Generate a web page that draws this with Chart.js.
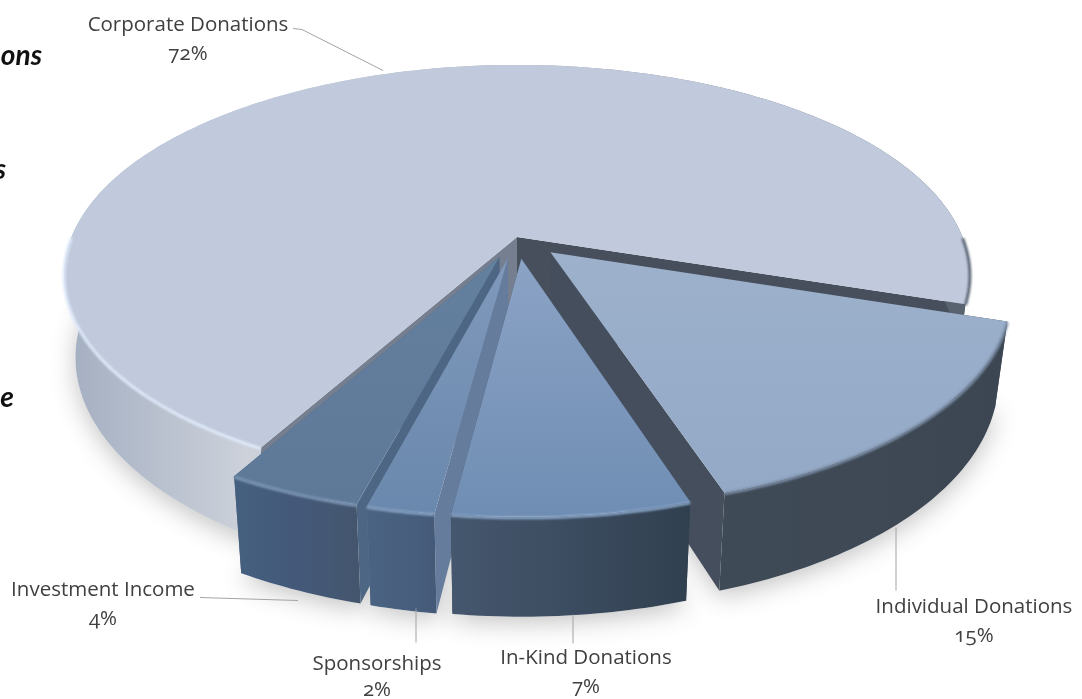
<!DOCTYPE html>
<html>
<head>
<meta charset="utf-8">
<script src="https://cdn.jsdelivr.net/npm/chart.js@4"></script>
<style>
    html, body { margin: 0; padding: 0; background: #fff; overflow: hidden; }
    #wrap { position: relative; width: 1082px; height: 699px; overflow: hidden; }
    .lbl { position: absolute; transform: translateX(-50%); white-space: nowrap; text-align: center;
           font-family: "Open Sans", sans-serif; font-size: 20.5px; line-height: 29px; color: #404040;
           font-feature-settings: "onum" 1; font-variant-numeric: oldstyle-nums; }
    .cut { position: absolute; transform: translateX(-100%); white-space: nowrap;
           font-family: Lato, sans-serif; font-weight: 700; font-style: italic; font-size: 28px; color: #111; }
</style>
</head>
<body>
<div id="wrap">
    <canvas id="chart" width="1082" height="699"></canvas>
</div>
<script>
    const categories = ['Corporate Donations', 'Individual Donations', 'In-Kind Donations', 'Sponsorships', 'Investment Income'];
    const shares = [72, 15, 7, 2, 4];
    const sideWords = ['ons', 's', 'e'];

    // slice styling, same order as categories
    const explode = [0, 21, 21, 21, 21];
    const topShades = [['#c0cadc', '#c0cadc'], ['#9db1cc', '#93a9c6'], ['#8ba3c5', '#6f8db3'], ['#7f99bb', '#6a88ad'], ['#64809f', '#5e7898']];
    const rimShades = ['#dde8f8', '#7d8fa8', '#8aa6c8', '#86a2c4', '#7e98b6'];
    const wallShades = [['#a3aec1', '#ccd1da', '#59626f'], ['#3f4a57', '#3e4955', '#3c4652'], ['#45576e', '#3c4c60', '#30404f'], ['#4b6382', '#48607e', '#445a78'], ['#45607f', '#44597a', '#44566e']];
    const cutWalls = [['#767f8f', '#474f5d'], ['#454e5c', '#454e5c'], ['#39485a', '#39485a'], ['#667c9c', '#667c9c'], ['#4c6683', '#4c6683']];

    // label placement: centre x, top y, line height, and the leader line that goes with it
    const labelSpots = [[188, 9, 29], [974, 591, 29], [586, 642, 29], [377, 649, 26], [103, 574, 29]];
    const leaders = [
        [[293, 28], [302, 29], [383, 70]],
        [[896, 527], [896, 590]],
        [[573, 614], [573, 643]],
        [[416, 608], [416, 642]],
        [[200, 597], [298, 600]]
    ];
    const sideSpots = [[42, 37], [6, 151], [14, 379]];

    // camera for the tilted disc, all relative to the outer radius
    const SPREAD_X = 2.2275;
    const SPREAD_Y = 1.015;
    const PERSPECTIVE = 0.18;
    const DEPTH = 0.4;
    const BOTTOM_SHRINK = 0.975;

    function project(el, u, v, low) {
        const w = 1 - PERSPECTIVE * v;
        const R = el.outerRadius;
        let px = SPREAD_X * R * u / w;
        let py = SPREAD_Y * R * v / w;
        if (low) {
            px *= BOTTOM_SHRINK;
            py += DEPTH * R / w;
        }
        return [el.x + px, el.y + py];
    }

    class Arc3dElement extends Chart.ArcElement {
        static id = 'arc3d';

        // apex and rim of the slice in disc units, pushed out along the bisector
        outline() {
            const mid = (this.startAngle + this.endAngle) / 2;
            const off = (this.options.offset || 0) / this.outerRadius;
            const ox = Math.cos(mid) * off;
            const oy = Math.sin(mid) * off;
            const steps = Math.max(4, Math.ceil((this.endAngle - this.startAngle) * 60));
            const rim = [];
            for (let i = 0; i <= steps; i++) {
                const a = this.startAngle + (this.endAngle - this.startAngle) * i / steps;
                rim.push({ u: ox + Math.cos(a), v: oy + Math.sin(a), front: Math.sin(a) > 0 });
            }
            return { apex: { u: ox, v: oy }, rim };
        }

        tracePoly(ctx, pts) {
            ctx.beginPath();
            pts.forEach((p, i) => i ? ctx.lineTo(p[0], p[1]) : ctx.moveTo(p[0], p[1]));
            ctx.closePath();
        }

        castShadow(ctx) {
            const { apex, rim } = this.outline();
            const pts = [apex, ...rim].map(p => project(this, p.u, p.v, true));
            ctx.save();
            ctx.shadowColor = 'rgba(60,60,60,0.3)';
            ctx.shadowBlur = 24;
            ctx.shadowOffsetY = 6;
            ctx.fillStyle = '#fff';
            this.tracePoly(ctx, pts);
            ctx.fill();
            ctx.restore();
        }

        draw(ctx) {
            const i = this.$index;
            const { apex, rim } = this.outline();
            const topRim = rim.map(p => project(this, p.u, p.v, false));
            const lowRim = rim.map(p => project(this, p.u, p.v, true));
            const topApex = project(this, apex.u, apex.v, false);
            const lowApex = project(this, apex.u, apex.v, true);

            // the two cut faces go first, the outer wall and top cover whatever is hidden
            const first = topRim[0], last = topRim[topRim.length - 1];
            ctx.fillStyle = cutWalls[i][0];
            this.tracePoly(ctx, [topApex, first, lowRim[0], lowApex]);
            ctx.fill();
            ctx.fillStyle = cutWalls[i][1];
            this.tracePoly(ctx, [topApex, last, lowRim[lowRim.length - 1], lowApex]);
            ctx.fill();

            // outer wall
            const xs = topRim.map(p => p[0]);
            const wallGrad = ctx.createLinearGradient(Math.min(...xs), 0, Math.max(...xs), 0);
            const ws = wallShades[i];
            wallGrad.addColorStop(0, ws[0]);
            wallGrad.addColorStop(i === 0 ? 0.2 : 0.5, ws[1]);
            wallGrad.addColorStop(i === 0 ? 0.95 : 1, ws[2]);
            ctx.fillStyle = wallGrad;
            this.tracePoly(ctx, [...topRim, ...lowRim.slice().reverse()]);
            ctx.fill();

            // top face
            const ys = [topApex, ...topRim].map(p => p[1]);
            const topGrad = ctx.createLinearGradient(0, Math.min(...ys), 0, Math.max(...ys));
            topGrad.addColorStop(0, topShades[i][0]);
            topGrad.addColorStop(1, topShades[i][1]);
            ctx.fillStyle = topGrad;
            this.tracePoly(ctx, [topApex, ...topRim]);
            ctx.fill();

            // soft highlight where the front of the top rounds over into the wall
            const rimGrad = ctx.createLinearGradient(Math.min(...xs), 0, Math.max(...xs), 0);
            rimGrad.addColorStop(0, rimShades[i]);
            rimGrad.addColorStop(0.6, rimShades[i]);
            rimGrad.addColorStop(0.8, i === 0 ? '#5f6878' : rimShades[i]);
            rimGrad.addColorStop(1, i === 0 ? '#5f6878' : rimShades[i]);
            ctx.save();
            ctx.filter = 'blur(1.2px)';
            ctx.strokeStyle = rimGrad;
            ctx.lineWidth = 3;
            ctx.beginPath();
            let pen = false;
            topRim.forEach((p, n) => {
                if (!rim[n].front) { pen = false; return; }
                pen ? ctx.lineTo(p[0], p[1] + 1) : ctx.moveTo(p[0], p[1] + 1);
                pen = true;
            });
            ctx.stroke();
            ctx.restore();
        }
    }

    class Pie3dController extends Chart.PieController {
        static id = 'pie3d';
        static defaults = { dataElementType: 'arc3d' };

        // back slices first so the nearer ones overlap them
        draw() {
            const ctx = this.chart.ctx;
            const arcs = this.getMeta().data.slice();
            arcs.forEach((a, i) => { a.$index = i; });
            arcs.forEach(a => a.castShadow(ctx));
            arcs.sort((a, b) => Math.sin((a.startAngle + a.endAngle) / 2) - Math.sin((b.startAngle + b.endAngle) / 2));
            arcs.forEach(a => a.draw(ctx));
        }
    }

    Chart.register(Arc3dElement, Pie3dController);

    const leaderLines = {
        id: 'leaderLines',
        afterDatasetsDraw(chart) {
            const ctx = chart.ctx;
            ctx.save();
            ctx.strokeStyle = '#a3a3a3';
            ctx.lineWidth = 1;
            leaders.forEach(line => {
                ctx.beginPath();
                line.forEach((p, i) => i ? ctx.lineTo(p[0], p[1] + 0.5) : ctx.moveTo(p[0], p[1] + 0.5));
                ctx.stroke();
            });
            ctx.restore();
        }
    };

    new Chart(document.getElementById('chart'), {
        type: 'pie3d',
        data: {
            labels: categories,
            datasets: [{ data: shares, offset: explode, borderWidth: 0 }]
        },
        options: {
            responsive: false,
            animation: false,
            rotation: 209,
            radius: 200,
            layout: { padding: { left: 0, right: 48, top: 0, bottom: 225 } },
            plugins: { legend: { display: false }, tooltip: { enabled: false } }
        },
        plugins: [leaderLines]
    });

    const wrap = document.getElementById('wrap');
    categories.forEach((name, i) => {
        const div = document.createElement('div');
        div.className = 'lbl';
        div.style.left = labelSpots[i][0] + 'px';
        div.style.top = labelSpots[i][1] + 'px';
        div.style.lineHeight = labelSpots[i][2] + 'px';
        div.innerHTML = name + '<br>' + shares[i] + '%';
        wrap.appendChild(div);
    });
    sideWords.forEach((word, i) => {
        const span = document.createElement('span');
        span.className = 'cut';
        span.style.left = sideSpots[i][0] + 'px';
        span.style.top = sideSpots[i][1] + 'px';
        span.textContent = word;
        wrap.appendChild(span);
    });
</script>
</body>
</html>
